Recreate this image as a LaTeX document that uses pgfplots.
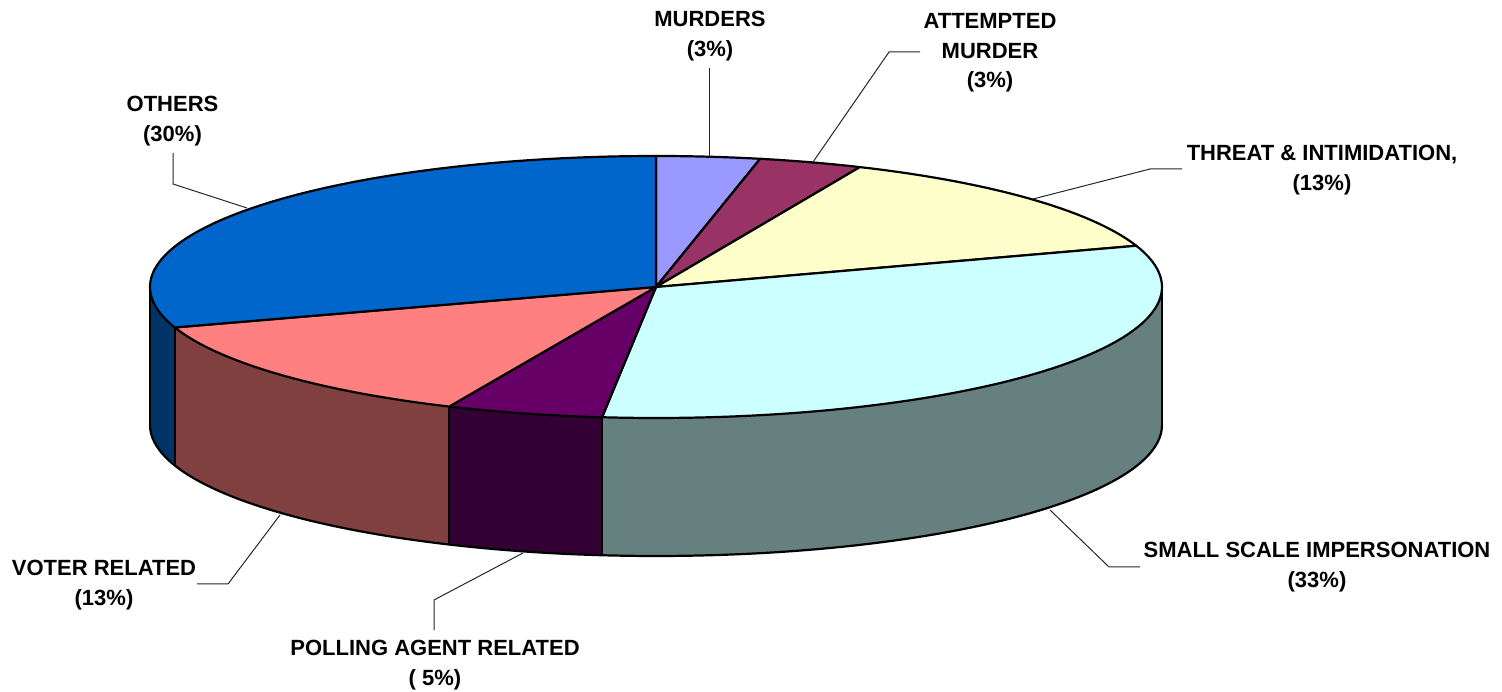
\documentclass[border=0pt]{standalone}
\usepackage{pgfplots}
\pgfplotsset{compat=1.18}
\usepgfplotslibrary{fillbetween}
\usepackage{fontspec}
\setmainfont{Liberation Sans}

\definecolor{cOth}{HTML}{0066CC}\definecolor{cOthS}{HTML}{003366}
\definecolor{cMur}{HTML}{9999FF}
\definecolor{cAtt}{HTML}{993366}
\definecolor{cThr}{HTML}{FFFFCC}
\definecolor{cSma}{HTML}{CCFFFF}\definecolor{cSmaS}{HTML}{668080}
\definecolor{cPol}{HTML}{660066}\definecolor{cPolS}{HTML}{330033}
\definecolor{cVot}{HTML}{FF8080}\definecolor{cVotS}{HTML}{804040}

\tikzset{
  sec/.style={draw=black, line width=2.2pt, line join=round},
  lbl/.style={font=\fontsize{22}{29.5}\selectfont\bfseries, align=center, inner sep=0pt},
  lead/.style={draw=black!85, line width=1pt},
}

% shares (percent), clockwise from 12 o'clock
\def\vMur{3.3}\def\vAtt{3.3}\def\vThr{13.3}\def\vSma{31.8}\def\vPol{5.0}\def\vVot{13.3}\def\vOth{30.0}

% geometry of the 3-D pie (axis units)
\def\cx{656}\def\cy{404}\def\rx{506}\def\ry{131}\def\dep{138}

\pgfmathsetmacro\aA{90-3.6*\vMur}
\pgfmathsetmacro\aB{\aA-3.6*\vAtt}
\pgfmathsetmacro\aC{\aB-3.6*\vThr}
\pgfmathsetmacro\aD{\aC-3.6*\vSma}
\pgfmathsetmacro\aE{\aD-3.6*\vPol}
\pgfmathsetmacro\aF{\aE-3.6*\vVot}
\pgfmathsetmacro\aG{\aF-3.6*\vOth}

\pgfmathsetmacro\xD{\cx+\rx*cos(\aD)}\pgfmathsetmacro\yD{\cy+\ry*sin(\aD)}\pgfmathsetmacro\yDb{\yD-\dep}
\pgfmathsetmacro\xE{\cx+\rx*cos(\aE)}\pgfmathsetmacro\yE{\cy+\ry*sin(\aE)}\pgfmathsetmacro\yEb{\yE-\dep}
\pgfmathsetmacro\xF{\cx+\rx*cos(\aF)}\pgfmathsetmacro\yF{\cy+\ry*sin(\aF)}\pgfmathsetmacro\yFb{\yF-\dep}
\pgfmathsetmacro\xL{\cx-\rx}\pgfmathsetmacro\xR{\cx+\rx}\pgfmathsetmacro\yB{\cy-\dep}

\begin{document}
\begin{tikzpicture}
\begin{axis}[
  width=1502pt, height=691pt, scale only axis,
  xmin=0, xmax=1502, ymin=0, ymax=691,
  hide axis, clip=false,
]
\path (rel axis cs:0,0) rectangle (rel axis cs:1,1);

% ---- side faces ----
\addplot[draw=none, name path=tO, domain=-180:\aF, samples=20] ({\cx+\rx*cos(x)},{\cy+\ry*sin(x)});
\addplot[draw=none, name path=bO, domain=-180:\aF, samples=20] ({\cx+\rx*cos(x)},{\cy-\dep+\ry*sin(x)});
\addplot[fill=cOthS, draw=none] fill between[of=tO and bO];

\addplot[draw=none, name path=tV, domain=\aF:\aE, samples=30] ({\cx+\rx*cos(x)},{\cy+\ry*sin(x)});
\addplot[draw=none, name path=bV, domain=\aF:\aE, samples=30] ({\cx+\rx*cos(x)},{\cy-\dep+\ry*sin(x)});
\addplot[fill=cVotS, draw=none] fill between[of=tV and bV];

\addplot[draw=none, name path=tP, domain=\aE:\aD, samples=20] ({\cx+\rx*cos(x)},{\cy+\ry*sin(x)});
\addplot[draw=none, name path=bP, domain=\aE:\aD, samples=20] ({\cx+\rx*cos(x)},{\cy-\dep+\ry*sin(x)});
\addplot[fill=cPolS, draw=none] fill between[of=tP and bP];

\addplot[draw=none, name path=tS, domain=\aD:0, samples=50] ({\cx+\rx*cos(x)},{\cy+\ry*sin(x)});
\addplot[draw=none, name path=bS, domain=\aD:0, samples=50] ({\cx+\rx*cos(x)},{\cy-\dep+\ry*sin(x)});
\addplot[fill=cSmaS, draw=none] fill between[of=tS and bS];

% side outlines
\addplot[sec, domain=-180:0, samples=120] ({\cx+\rx*cos(x)},{\cy-\dep+\ry*sin(x)});
\addplot[sec] coordinates {(\xL,\cy) (\xL,\yB)};
\addplot[sec] coordinates {(\xR,\cy) (\xR,\yB)};
\addplot[sec] coordinates {(\xD,\yD) (\xD,\yDb)};
\addplot[sec] coordinates {(\xE,\yE) (\xE,\yEb)};
\addplot[sec] coordinates {(\xF,\yF) (\xF,\yFb)};

% ---- top faces ----
\addplot[sec, fill=cMur, domain=\aA:90, samples=20] ({\cx+\rx*cos(x)},{\cy+\ry*sin(x)}) -- (axis cs:\cx,\cy) -- cycle;
\addplot[sec, fill=cAtt, domain=\aB:\aA, samples=20] ({\cx+\rx*cos(x)},{\cy+\ry*sin(x)}) -- (axis cs:\cx,\cy) -- cycle;
\addplot[sec, fill=cThr, domain=\aC:\aB, samples=40] ({\cx+\rx*cos(x)},{\cy+\ry*sin(x)}) -- (axis cs:\cx,\cy) -- cycle;
\addplot[sec, fill=cSma, domain=\aD:\aC, samples=80] ({\cx+\rx*cos(x)},{\cy+\ry*sin(x)}) -- (axis cs:\cx,\cy) -- cycle;
\addplot[sec, fill=cPol, domain=\aE:\aD, samples=20] ({\cx+\rx*cos(x)},{\cy+\ry*sin(x)}) -- (axis cs:\cx,\cy) -- cycle;
\addplot[sec, fill=cVot, domain=\aF:\aE, samples=40] ({\cx+\rx*cos(x)},{\cy+\ry*sin(x)}) -- (axis cs:\cx,\cy) -- cycle;
\addplot[sec, fill=cOth, domain=\aG:\aF, samples=80] ({\cx+\rx*cos(x)},{\cy+\ry*sin(x)}) -- (axis cs:\cx,\cy) -- cycle;

% ---- leader lines ----
\draw[lead] (axis cs:709,534) -- (axis cs:709,623);
\draw[lead] (axis cs:813,529) -- (axis cs:889,639) -- (axis cs:920,639);
\draw[lead] (axis cs:247,483) -- (axis cs:173,507) -- (axis cs:173,538);
\draw[lead] (axis cs:1033,492) -- (axis cs:1150,522) -- (axis cs:1182,522);
\draw[lead] (axis cs:1050,181) -- (axis cs:1109,124) -- (axis cs:1140,124);
\draw[lead] (axis cs:280,176) -- (axis cs:228,107) -- (axis cs:197,107);
\draw[lead] (axis cs:523,138) -- (axis cs:434,91) -- (axis cs:434,61);

% ---- labels ----
\node[lbl] at (axis cs:710,655) {MURDERS\\(3\%)};
\node[lbl] at (axis cs:990,638) {ATTEMPTED\\MURDER\\(3\%)};
\node[lbl] at (axis cs:172.5,570) {OTHERS\\(30\%)};
\node[lbl] at (axis cs:1322,521) {THREAT \& INTIMIDATION,\\(13\%)};
\node[lbl] at (axis cs:1317,124) {SMALL SCALE IMPERSONATION\\(33\%)};
\node[lbl] at (axis cs:104,106) {VOTER RELATED\\(13\%)};
\node[lbl] at (axis cs:435,26) {POLLING AGENT RELATED\\( 5\%)};
\end{axis}
\end{tikzpicture}
\end{document}
